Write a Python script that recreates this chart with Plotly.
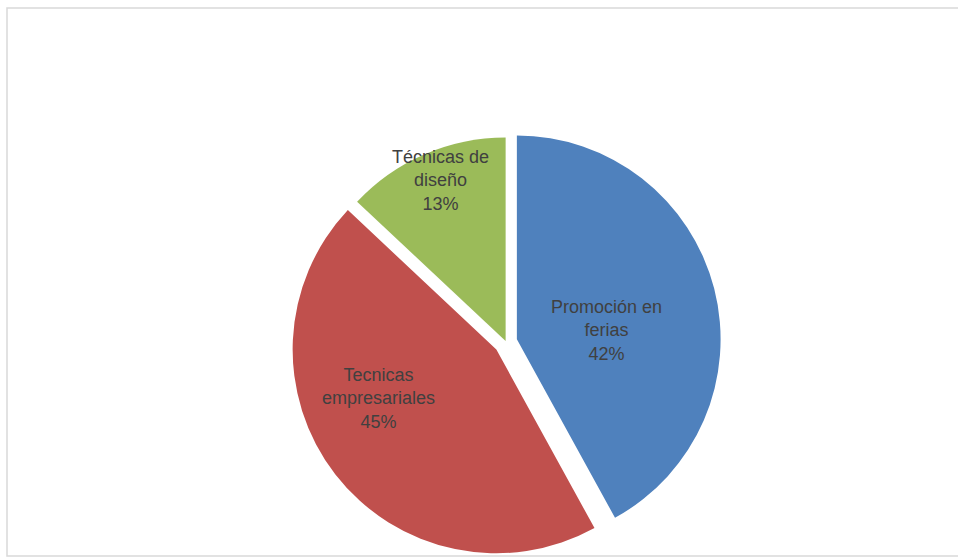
import plotly.graph_objects as go

# Slice data, clockwise from 12 o'clock.
labels = ["Promoción en ferias", "Tecnicas empresariales", "Técnicas de diseño"]
label_text = ["Promoción en<br>ferias", "Tecnicas<br>empresariales", "Técnicas de<br>diseño"]
values = [42, 45, 13]

colors = ["#4F81BD", "#C0504D", "#9BBB59"]
pulls = [0.055, 0.06, 0.005]
# Where each data label sits (paper coords), like Excel's "best fit".
label_pos = [(0.6336, 0.4086), (0.3946, 0.2867), (0.4593, 0.6774)]

fig = go.Figure(go.Pie(
    labels=labels,
    values=values,
    textinfo="none",
    marker=dict(colors=colors, line=dict(width=0)),
    pull=pulls,
    sort=False,
    direction="clockwise",
    rotation=0,
    hoverinfo="label+percent",
    domain=dict(x=[0.3027, 0.7537], y=[0.0, 0.774]),
    showlegend=False,
))

# Data labels: name + rounded percent.
total = sum(values)
for txt, val, (px_, py_) in zip(label_text, values, label_pos):
    fig.add_annotation(
        x=px_, y=py_, xref="paper", yref="paper",
        text=f"{txt}<br>{round(100 * val / total)}%",
        showarrow=False, xanchor="center", yanchor="middle",
        font=dict(family="Liberation Sans, Arial, sans-serif", size=18, color="#404040"),
    )

# Light grey chart-area frame.
fig.add_shape(type="rect", xref="paper", yref="paper",
              x0=0.0073, x1=1.01, y0=0.0036, y1=0.9857,
              line=dict(color="#D9D9D9", width=1.5))

fig.update_layout(
    width=958,
    height=558,
    margin=dict(l=0, r=0, t=0, b=0),
    paper_bgcolor="white",
    plot_bgcolor="white",
)

fig.write_html("out.html",
               config={"displayModeBar": False},
               post_script="document.body.style.margin='0';"
                           "document.body.style.overflow='hidden';")
